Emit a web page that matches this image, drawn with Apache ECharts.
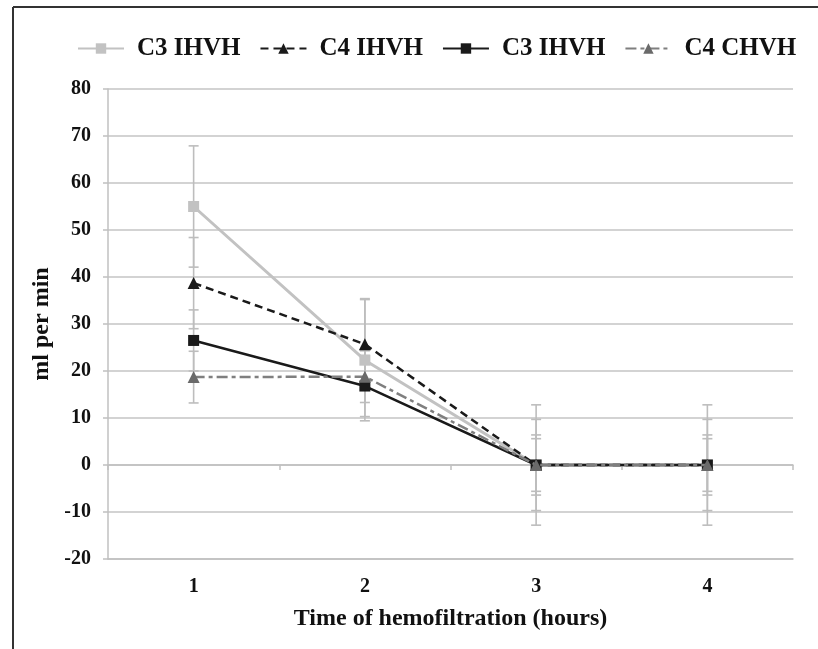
<!DOCTYPE html>
<html>
<head>
<meta charset="utf-8">
<script src="https://cdn.jsdelivr.net/npm/echarts@6/dist/echarts.min.js"></script>
<style>
html,body{margin:0;padding:0;background:#fff;}
#c{width:818px;height:649px;}
</style>
</head>
<body>
<div id="c"></div>
<script>
// ---- data ----
var categories = ['1', '2', '3', '4'];
var seriesLabels = ['C3 IHVH', 'C4 IHVH', 'C3 IHVH', 'C4 CHVH'];
var c3LightValues = [55, 22.3, 0, 0];
var c4IhvhValues = [38.7, 25.7, 0, 0];
var c3DarkValues = [26.5, 16.8, 0, 0];
var c4ChvhValues = [18.7, 18.8, 0, 0];
var c3LightErr = [12.9, 12.9, 12.8, 12.8];
var c4IhvhErr = [9.7, 9.7, 9.7, 9.7];
var c3DarkErr = [6.5, 6.5, 6.4, 6.4];
var c4ChvhErr = [5.5, 5.5, 5.6, 5.6];
var yTicks = {min: -20, max: 80, interval: 10};
var yName = 'ml per min';
var xName = 'Time of hemofiltration (hours)';

var FONT = '"Liberation Serif", "DejaVu Serif", serif';
var chart = echarts.init(document.getElementById('c'));

var allValues = [c3LightValues, c4IhvhValues, c3DarkValues, c4ChvhValues];
var allErr = [c3LightErr, c4IhvhErr, c3DarkErr, c4ChvhErr];
var errData = [];
allValues.forEach(function (vals, s) {
  vals.forEach(function (v, i) {
    errData.push([i, v - allErr[s][i], v + allErr[s][i]]);
  });
});

function errRender(params, api) {
  var lo = api.coord([api.value(0), api.value(1)]);
  var hi = api.coord([api.value(0), api.value(2)]);
  var cap = 5;
  var st = {stroke: '#bdbdbd', lineWidth: 1.6};
  return {
    type: 'group',
    children: [
      {type: 'line', shape: {x1: lo[0], y1: lo[1], x2: hi[0], y2: hi[1]}, style: st},
      {type: 'line', shape: {x1: lo[0] - cap, y1: lo[1], x2: lo[0] + cap, y2: lo[1]}, style: st},
      {type: 'line', shape: {x1: hi[0] - cap, y1: hi[1], x2: hi[0] + cap, y2: hi[1]}, style: st}
    ]
  };
}

var ids = ['s1', 's2', 's3', 's4'];
function lineSeries(k, vals, color, lineType, width, symbol, size, symColor) {
  return {
    name: ids[k], type: 'line', data: vals, xAxisIndex: 0,
    symbol: symbol, symbolSize: size,
    itemStyle: {color: symColor},
    lineStyle: {color: color, width: width, type: lineType},
    z: 3 + k, animation: false
  };
}

var option = {
  backgroundColor: '#fff',
  animation: false,
  graphic: [
    {type: 'line', shape: {x1: 13, y1: 7, x2: 818, y2: 7}, style: {stroke: '#333', lineWidth: 2}},
    {type: 'line', shape: {x1: 13, y1: 7, x2: 13, y2: 649}, style: {stroke: '#333', lineWidth: 2}}
  ],
  legend: {
    data: ids, top: 31, left: 72,
    itemWidth: 46, itemHeight: 13, itemGap: 19,
    formatter: function (n) { return seriesLabels[ids.indexOf(n)]; },
    textStyle: {fontFamily: FONT, fontWeight: 'bold', fontSize: 25, color: '#111', padding: [0, 0, 0, 8]}
  },
  grid: {left: 108, right: 25, top: 89, bottom: 90, containLabel: false},
  xAxis: [{
    type: 'category', data: categories, position: 'bottom',
    axisLine: {onZero: false, lineStyle: {color: '#c0c0c0', width: 1.5}},
    axisTick: {show: false},
    axisLabel: {margin: 18, fontFamily: FONT, fontWeight: 'bold', fontSize: 20, color: '#111'},
    name: xName, nameLocation: 'middle', nameGap: 48,
    nameTextStyle: {fontFamily: FONT, fontWeight: 'bold', fontSize: 24, color: '#111'}
  }, {
    type: 'category', data: categories, position: 'bottom',
    axisLine: {onZero: true, onZeroAxisIndex: 0, lineStyle: {color: '#c0c0c0', width: 1.5}},
    axisTick: {show: true, length: 5, lineStyle: {color: '#c0c0c0', width: 1.5}},
    axisLabel: {show: false}, splitLine: {show: false}
  }],
  yAxis: {
    type: 'value', min: yTicks.min, max: yTicks.max, interval: yTicks.interval,
    axisLine: {show: true, lineStyle: {color: '#c0c0c0', width: 1.5}},
    axisTick: {show: true, length: 5, lineStyle: {color: '#c0c0c0', width: 1.5}},
    splitLine: {lineStyle: {color: '#c4c4c4', width: 1.5}},
    axisLabel: {margin: 17, fontFamily: FONT, fontWeight: 'bold', fontSize: 20, color: '#111'},
    name: yName, nameLocation: 'middle', nameGap: 46, nameRotate: 90,
    nameTextStyle: {fontFamily: FONT, fontWeight: 'bold', fontSize: 24, color: '#111'}
  },
  series: [
    {type: 'custom', renderItem: errRender, data: errData, xAxisIndex: 0, z: 2, silent: true,
     encode: {x: 0, y: [1, 2]}},
    lineSeries(0, c3LightValues, '#c2c2c2', 'solid', 3, 'rect', 11, '#c2c2c2'),
    lineSeries(1, c4IhvhValues, '#1a1a1a', [8, 5], 2.5, 'triangle', 12, '#1a1a1a'),
    lineSeries(2, c3DarkValues, '#1a1a1a', 'solid', 2.5, 'rect', 11, '#1a1a1a'),
    lineSeries(3, c4ChvhValues, '#7f7f7f', [11, 4, 4, 4], 2.5, 'triangle', 12, '#6a6a6a')
  ]
};
chart.setOption(option);
</script>
</body>
</html>
